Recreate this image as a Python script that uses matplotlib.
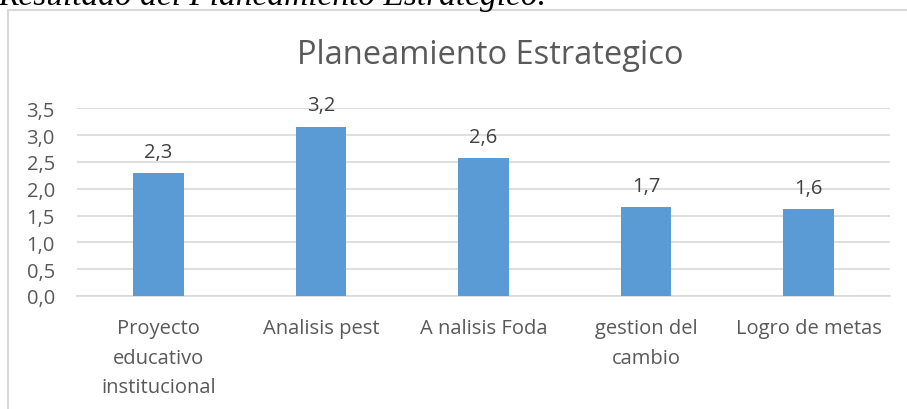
import matplotlib.pyplot as plt
from matplotlib.patches import Rectangle

# Data
categories = ['Proyecto\neducativo\ninstitucional', 'Analisis pest', 'A nalisis Foda',
              'gestion del\ncambio', 'Logro de metas']
values = [2.29, 3.16, 2.58, 1.66, 1.62]
yticks = [0.0, 0.5, 1.0, 1.5, 2.0, 2.5, 3.0, 3.5]

plt.rcParams['font.family'] = ['Open Sans', 'DejaVu Sans']

fig = plt.figure(figsize=(9.07, 4.10), dpi=100)
ax = fig.add_axes([77 / 907, 1 - 297 / 410, (890 - 77) / 907, (297 - 109.3) / 410])

# chart frame (word-embedded look)
fig.patches.append(Rectangle((8 / 907, -0.05), 1.1, 1 - 11 / 410 + 0.05,
                             transform=fig.transFigure, fill=False,
                             edgecolor='#D9D9D9', lw=1.5))

# caption cut off at the top
fig.text(-0.002, 1 - 5 / 410, 'Resultado del Planeamiento Estratégico.',
         family='Liberation Serif', style='italic', fontsize=24,
         va='baseline', ha='left', color='black')

x = range(len(categories))
bars = ax.bar(x, values, width=0.31, color='#5B9BD5', zorder=3)

for xi, v in zip(x, values):
    ax.annotate(f'{v:.1f}'.replace('.', ','), (xi, v), xytext=(0, 8),
                textcoords='offset points', ha='center', va='bottom',
                fontsize=14.5, color='#404040')

ax.set_xlim(-0.5, len(categories) - 0.5)
ax.set_ylim(0, 3.5)
ax.set_yticks(yticks)
ax.set_yticklabels([f'{t:.1f}'.replace('.', ',') for t in yticks])
ax.set_xticks(list(x))
ax.set_xticklabels(categories, linespacing=1.62)

ax.grid(axis='y', color='#D9D9D9', lw=1.2, zorder=0)
for s in ['top', 'right', 'left']:
    ax.spines[s].set_visible(False)
ax.spines['bottom'].set_color('#D9D9D9')
ax.spines['bottom'].set_linewidth(1.2)
ax.tick_params(axis='both', length=0, labelsize=14.5, labelcolor='#595959')
ax.tick_params(axis='x', pad=16)
ax.tick_params(axis='y', pad=16)

fig.text(490 / 907, 1 - 56 / 410, 'Planeamiento Estrategico', ha='center', va='center',
         fontsize=23.5, color='#595959')

fig.savefig('out.png', dpi=100)
